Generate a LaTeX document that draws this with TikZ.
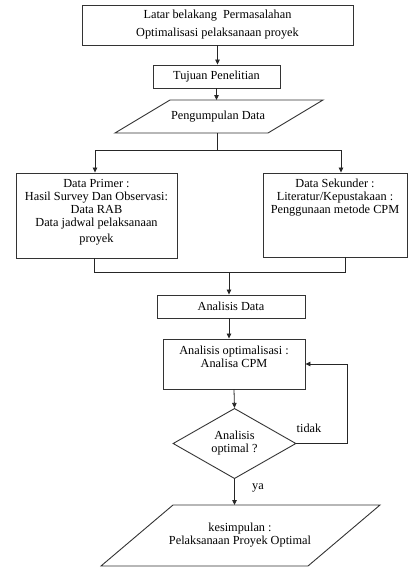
\documentclass[tikz,border=0pt]{standalone}
\usepackage{fontspec}
\setmainfont{Liberation Serif}
\usetikzlibrary{arrows.meta,calc,shapes.geometric}
\begin{document}
\begin{tikzpicture}[x=1pt,y=-1pt,
  font=\fontsize{12.3}{13}\selectfont,
  box/.style={draw=black!80, line width=0.9pt, rectangle, inner sep=0pt, align=center},
  shp/.style={draw=black!80, line width=0.9pt},
  arr/.style={draw=black!85, line width=0.8pt, -{Triangle[length=5pt,width=4.5pt]}},
  ln/.style={draw=black!85, line width=0.8pt},
  txt/.style={inner sep=0pt, align=center}]
\useasboundingbox (0,0) rectangle (409,571);
% boxes
\node[box, minimum width=271pt, minimum height=40pt, font=\fontsize{12.3}{18}\selectfont] (b1) at (217.5,25) {Latar belakang~ Permasalahan\\Optimalisasi pelaksanaan proyek};
\node[box, minimum width=127pt, minimum height=23pt] (b2) at (216.5,76.5) {Tujuan Penelitian};
% parallelogram 1
\draw[shp] (115,133) -- (170,100) -- (323,100) -- (268,133) -- cycle;
\node[txt] (p1) at (218,117) {Pengumpulan Data};
\coordinate (p1t) at (216.5,100);
\coordinate (p1b) at (217,133);
\coordinate (br) at (217,150);
% data boxes
\node[box, minimum width=161pt, minimum height=85pt] (lbox) at (96.5,215.5) {};
\node[txt] (lt) at (96.5,212.5) {Data Primer :\\Hasil Survey Dan Observasi:\\Data RAB\\Data jadwal pelaksanaan\\[3pt]proyek};
\node[box, minimum width=144.5pt, minimum height=84pt] (rbox) at (335.25,215) {};
\node[txt] (rt) at (335,197.5) {Data Sekunder :\\Literatur/Kepustakaan :\\Penggunaan metode CPM};
\coordinate (mg) at (229,272);
% analysis
\node[box, minimum width=148pt, minimum height=23pt] (ad) at (231,306.5) {Analisis Data};
\node[box, minimum width=142pt, minimum height=50pt] (ob) at (234,364) {};
\node[txt] (ot) at (234,356.5) {Analisis optimalisasi :\\Analisa CPM};
\node[shp, diamond, inner sep=0pt, minimum width=123pt, minimum height=67pt, align=center] (dia) at (234.5,443.5) {Analisis\\optimal ?};
\coordinate (fbx) at (347,0);
\node[txt] (tidak) at (309,428) {tidak};
\node[txt] (ya) at (258,488) {ya};
% parallelogram 2
\draw[shp] (101,566) -- (173,505) -- (380,505) -- (308,566) -- cycle;
\node[txt] (p2) at (240,535.5) {kesimpulan :\\Pelaksanaan Proyek Optimal};
\coordinate (p2t) at (234.5,505);
% connectors
\draw[arr] (b1.south) -- (b1.south |- b2.north);
\draw[arr] (b2.south) -- (p1t);
\draw[ln] (p1b) -- (br);
\draw[arr] (br) -| ($(lbox.north)+(-1.5,0)$);
\draw[arr] (br) -| ($(rbox.north)+(5.75,0)$);
\draw[ln] ($(lbox.south)+(-2.5,0)$) |- (mg);
\draw[ln] ($(rbox.south)+(9.75,0)$) |- (mg);
\draw[arr] (mg) -- (mg |- ad.north);
\draw[arr] (ad.south -| mg) -- (ob.north -| mg);
\draw[arr] (ob.south) -- (dia.north);
\draw[arr] (dia.east) -- (dia.east -| fbx) |- (ob.east);
\draw[arr] (dia.south) -- (p2t);
\end{tikzpicture}
\end{document}
